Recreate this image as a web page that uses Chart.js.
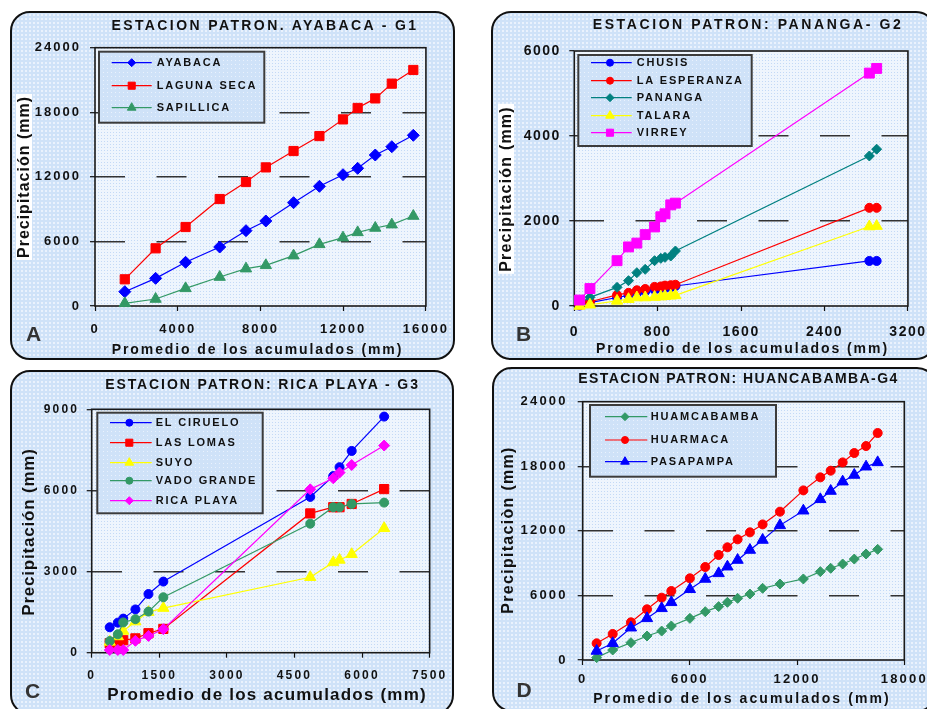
<!DOCTYPE html>
<html><head><meta charset="utf-8">
<script src="https://cdn.jsdelivr.net/npm/chart.js@4/dist/chart.umd.min.js"></script>
<style>
html,body{margin:0;padding:0;background:#fff;width:927px;height:709px;overflow:hidden;position:relative;font-family:"Liberation Sans",Arial,sans-serif;}
.panel{position:absolute;box-sizing:border-box;border:2px solid #111;border-radius:20px;background-color:#cfe2f8;background-image:radial-gradient(circle,#eaf2fd 0.9px,transparent 1.2px);background-size:4px 4px;}
canvas{position:absolute;}
.t{position:absolute;white-space:nowrap;font-weight:bold;color:#111;transform:translate(-50%,-50%);line-height:1;}
.yt{transform:translate(-50%,-50%) rotate(-90deg);}
.wb{background:#fff;padding:0 2px;}
.lt{color:#333;font-size:21px;}
</style></head><body>
<div class="panel" style="left:10px;top:11px;width:445px;height:349px"></div>
<div class="panel" style="left:491px;top:11px;width:445px;height:349px"></div>
<div class="panel" style="left:10px;top:370px;width:444px;height:345px"></div>
<div class="panel" style="left:492px;top:367px;width:445px;height:345px"></div>
<canvas id="cA" width="445" height="349" style="left:10px;top:11px"></canvas>
<canvas id="cB" width="445" height="349" style="left:491px;top:11px"></canvas>
<canvas id="cC" width="444" height="345" style="left:10px;top:370px"></canvas>
<canvas id="cD" width="445" height="345" style="left:492px;top:367px"></canvas>

<div class="t" style="left:265px;top:25px;font-size:14px;letter-spacing:2.4px">ESTACION PATRON. AYABACA - G1</div>
<div class="t" style="left:257.5px;top:349px;font-size:14px;letter-spacing:1.9px">Promedio de los acumulados (mm)</div>
<div class="t yt wb" style="left:24px;top:177px;font-size:16px;letter-spacing:1px">Precipitación (mm)</div>
<div class="t lt" style="left:33.5px;top:332.5px">A</div>

<div class="t" style="left:748px;top:24px;font-size:14px;letter-spacing:2.6px">ESTACION PATRON: PANANGA- G2</div>
<div class="t" style="left:742.5px;top:348px;font-size:14px;letter-spacing:1.95px">Promedio de los acumulados (mm)</div>
<div class="t yt wb" style="left:505.7px;top:189px;font-size:16px;letter-spacing:1.2px">Precipitación (mm)</div>
<div class="t lt" style="left:523.5px;top:332.5px">B</div>

<div class="t" style="left:262.5px;top:384px;font-size:14px;letter-spacing:1.9px">ESTACION PATRON: RICA PLAYA - G3</div>
<div class="t" style="left:267px;top:694px;font-size:17px;letter-spacing:1.2px">Promedio de los acumulados (mm)</div>
<div class="t yt" style="left:28px;top:532px;font-size:17px;letter-spacing:0.8px">Precipitación (mm)</div>
<div class="t lt" style="left:32.5px;top:689.5px">C</div>

<div class="t" style="left:738.5px;top:378px;font-size:14px;letter-spacing:1.4px">ESTACION PATRON: HUANCABAMBA-G4</div>
<div class="t" style="left:742px;top:698px;font-size:14px;letter-spacing:2.1px">Promedio de los acumulados (mm)</div>
<div class="t yt" style="left:507.7px;top:530px;font-size:16px;letter-spacing:1.3px">Precipitaciòn (mm)</div>
<div class="t lt" style="left:524px;top:689px">D</div>

<script>
// ---- Panel A data ----
const A_X = [1440, 2930, 4380, 6030, 7300, 8260, 9600, 10850, 11990, 12700, 13550, 14350, 15390];
const AYABACA = [1330, 2570, 4060, 5480, 7000, 7900, 9600, 11120, 12200, 12790, 14030, 14800, 15860];
const LAGUNA_SECA = [2480, 5360, 7340, 9940, 11520, 12880, 14400, 15790, 17340, 18400, 19290, 20660, 21930];
const SAPILLICA = [250, 650, 1640, 2690, 3470, 3780, 4680, 5730, 6350, 6840, 7250, 7560, 8360];
const A_XTICKS = [0, 4000, 8000, 12000, 16000];
const A_YTICKS = [0, 6000, 12000, 18000, 24000];

// ---- Panel B data ----
const B_X = [50, 150, 410, 520, 600, 680, 770, 830, 870, 925, 970, 2830, 2900];
const CHUSIS = [10, 80, 200, 250, 300, 340, 380, 400, 420, 440, 470, 1060, 1060];
const LA_ESPERANZA = [20, 100, 260, 310, 370, 400, 450, 460, 480, 490, 500, 2310, 2310];
const PANANGA = [60, 204, 439, 596, 784, 863, 1066, 1121, 1145, 1176, 1294, 3530, 3690];
const TALARA = [0, 30, 120, 160, 200, 200, 210, 220, 230, 240, 250, 1870, 1880];
const VIRREY = [140, 410, 1066, 1390, 1480, 1680, 1860, 2100, 2170, 2380, 2420, 5480, 5590];
const B_XTICKS = [0, 800, 1600, 2400, 3200];
const B_YTICKS = [0, 2000, 4000, 6000];

// ---- Panel C data ----
const C_X = [400, 580, 700, 970, 1260, 1590, 4850, 5360, 5500, 5770, 6490];
const EL_CIRUELO = [940, 1110, 1260, 1600, 2170, 2630, 5760, 6530, 6860, 7460, 8730];
const LAS_LOMAS = [350, 420, 460, 530, 720, 880, 5150, 5380, 5380, 5500, 6050];
const SUYO = [400, 600, 800, 1150, 1500, 1650, 2790, 3340, 3430, 3640, 4600];
const VADO_GRANDE = [430, 680, 1120, 1240, 1520, 2050, 4770, 5380, 5380, 5500, 5550];
const RICA_PLAYA = [100, 100, 100, 440, 620, 870, 6040, 6450, 6660, 6940, 7660];
const C_XTICKS = [0, 1500, 3000, 4500, 6000, 7500];
const C_YTICKS = [0, 3000, 6000, 9000];

// ---- Panel D data ----
const D_X = [780, 1680, 2700, 3600, 4420, 4960, 6000, 6860, 7610, 8100, 8670, 9360, 10070, 11040, 12350, 13300, 13880, 14550, 15200, 15860, 16510];
const HUAMCABAMBA = [220, 930, 1610, 2230, 2690, 3160, 3870, 4490, 4960, 5360, 5730, 6130, 6660, 7060, 7530, 8210, 8520, 8920, 9380, 9850, 10280];
const HUARMACA = [1550, 2420, 3500, 4710, 5790, 6410, 7590, 8640, 9760, 10470, 11210, 11860, 12600, 13780, 15760, 16970, 17590, 18360, 19230, 19880, 21090];
const PASAPAMPA = [840, 1550, 3000, 3870, 4800, 5360, 6570, 7530, 8050, 8670, 9290, 10220, 11150, 12510, 13870, 14930, 15700, 16570, 17190, 17960, 18360];
const D_XTICKS = [0, 6000, 12000, 18000];
const D_YTICKS = [0, 6000, 12000, 18000, 24000];

const FONT = '"Liberation Sans", Arial, sans-serif';

function pattern(ctx, base, dot, size, dx, dy) {
  const c = document.createElement('canvas');
  c.width = size; c.height = size;
  const g = c.getContext('2d');
  g.fillStyle = base; g.fillRect(0, 0, size, size);
  g.fillStyle = dot; g.fillRect(dx, dy, 1, 1);
  return ctx.createPattern(c, 'repeat');
}

const deco = {
  id: 'deco',
  beforeDraw(chart, args, o) {
    const ctx = chart.ctx, a = chart.chartArea;
    ctx.save();
    ctx.fillStyle = pattern(ctx, '#eef5fd', '#c3d9f6', 3, 1, 1);
    ctx.fillRect(a.left, a.top, a.right - a.left, a.bottom - a.top);
    ctx.restore();
    ctx.letterSpacing = (o.tickSpacing || 0) + 'px';
  },
  beforeDatasetsDraw(chart) {
    const ctx = chart.ctx, a = chart.chartArea;
    ctx.save();
    ctx.letterSpacing = '0px';
    ctx.strokeStyle = '#1a1a1a'; ctx.lineWidth = 1.6;
    ctx.strokeRect(a.left, a.top, a.right - a.left, a.bottom - a.top);
    ctx.restore();
  },
  afterDraw(chart, args, o) {
    const L = o.legend; if (!L) return;
    const ctx = chart.ctx;
    ctx.save();
    ctx.fillStyle = pattern(ctx, '#cfe2f8', '#eaf2fd', 4, 1, 1);
    ctx.fillRect(L.x, L.y, L.w, L.h);
    ctx.strokeStyle = '#3c3c3c'; ctx.lineWidth = 2;
    ctx.strokeRect(L.x, L.y, L.w, L.h);
    chart.data.datasets.forEach((d, i) => {
      const y = L.rows[i];
      ctx.letterSpacing = '0px';
      ctx.strokeStyle = d.borderColor; ctx.lineWidth = 1.2;
      ctx.beginPath(); ctx.moveTo(L.x1, y); ctx.lineTo(L.x2, y); ctx.stroke();
      ctx.fillStyle = d.borderColor; ctx.strokeStyle = d.borderColor; ctx.lineWidth = 1;
      Chart.helpers.drawPoint(ctx, {pointStyle: d.pointStyle, radius: d.legendR, borderWidth: 1, rotation: 0}, L.mx, y);
      ctx.fillStyle = '#111';
      ctx.font = 'bold 11px ' + FONT;
      ctx.letterSpacing = '1.8px';
      ctx.textBaseline = 'middle'; ctx.textAlign = 'left';
      ctx.fillText(d.label, L.tx, y);
    });
    ctx.restore();
  }
};
Chart.register(deco);

function ds(label, xs, ys, color, style, r, lr, i, n) {
  return {
    label, data: xs.map((x, k) => ({x, y: ys[k]})),
    borderColor: color, backgroundColor: color,
    pointBackgroundColor: color, pointBorderColor: color,
    pointStyle: style, pointRadius: r, pointHoverRadius: r, pointBorderWidth: 1,
    borderWidth: 1.2, showLine: true, tension: 0, clip: false,
    order: n - i, legendR: lr
  };
}

// area: chart area rectangle inside the canvas {l, t, r, b}; canvas size {w, h}
function make(id, cfg) {
  const n = cfg.series.length;
  const datasets = cfg.series.map((s, i) => ds(s[0], cfg.xs, s[1], s[2], s[3], s[4], s[5], i, n));
  const xmax = cfg.xt[cfg.xt.length - 1], ymax = cfg.yt[cfg.yt.length - 1];
  const tickFont = {family: FONT, size: cfg.tf, weight: 'bold'};
  const A = cfg.area, XH = 42, PL = 2;
  new Chart(document.getElementById(id), {
    type: 'scatter',
    data: {datasets},
    options: {
      responsive: false, animation: false, events: [],
      layout: {padding: {left: PL, top: A.t, right: cfg.w - A.r, bottom: cfg.h - A.b - XH}},
      plugins: {legend: {display: false}, tooltip: {enabled: false}, title: {display: false},
        deco: {tickSpacing: cfg.ts, legend: cfg.legend}},
      scales: {
        x: {type: 'linear', min: 0, max: xmax,
          afterBuildTicks: s => { s.ticks = cfg.xt.map(v => ({value: v})); },
          afterFit: s => { s.height = XH; },
          ticks: {font: tickFont, color: '#111', padding: cfg.xpad, maxRotation: 0, autoSkip: false, callback: v => String(v)},
          grid: {drawOnChartArea: false, drawTicks: true, tickLength: 5, tickColor: '#111', color: '#111', tickWidth: 1.2},
          border: {display: false}},
        y: {type: 'linear', min: 0, max: ymax,
          afterBuildTicks: s => { s.ticks = cfg.yt.map(v => ({value: v})); },
          afterFit: s => { s.width = A.l - PL; },
          ticks: {font: tickFont, color: '#111', padding: cfg.ypad, autoSkip: false, callback: v => String(v)},
          grid: {color: c => (c.tick && (c.tick.value === 0 || c.tick.value === ymax)) ? 'rgba(0,0,0,0)' : '#333',
                 lineWidth: 1.4, tickLength: 5, tickColor: '#111', tickWidth: 1.2},
          border: {display: false, dash: [30, 31.5]}}
      }
    }
  });
}

make('cA', {
  xs: A_X, xt: A_XTICKS, yt: A_YTICKS, tf: 13, ts: 2, xpad: 11, ypad: 9,
  w: 445, h: 349, area: {l: 85, t: 36.7, r: 417.7, b: 295},
  series: [
    ['AYABACA', AYABACA, '#0000ff', 'rectRot', 6, 4],
    ['LAGUNA SECA', LAGUNA_SECA, '#ff0000', 'rect', 6.5, 5],
    ['SAPILLICA', SAPILLICA, '#339966', 'triangle', 6.5, 5]
  ],
  legend: {x: 89, y: 40.7, w: 165.3, h: 71, rows: [51.7, 74.7, 96.7], x1: 101.7, x2: 141.7, mx: 121.7, tx: 146.7}
});

make('cB', {
  xs: B_X, xt: B_XTICKS, yt: B_YTICKS, tf: 14, ts: 1.5, xpad: 12.5, ypad: 8.5,
  w: 445, h: 349, area: {l: 83.3, t: 40, r: 424, b: 295},
  series: [
    ['CHUSIS', CHUSIS, '#0000ff', 'circle', 4.5, 3.5],
    ['LA ESPERANZA', LA_ESPERANZA, '#ff0000', 'circle', 4.5, 3.5],
    ['PANANGA', PANANGA, '#008080', 'rectRot', 5, 4],
    ['TALARA', TALARA, '#ffff00', 'triangle', 6.5, 5],
    ['VIRREY', VIRREY, '#ff00ff', 'rect', 7, 5]
  ],
  legend: {x: 87.3, y: 44, w: 173.4, h: 91, rows: [51.7, 69.7, 86.7, 104.7, 121.7], x1: 100, x2: 140.7, mx: 119, tx: 145.7}
});

make('cC', {
  xs: C_X, xt: C_XTICKS, yt: C_YTICKS, tf: 12, ts: 2.2, xpad: 11, ypad: 7.5,
  w: 444, h: 345, area: {l: 81.7, t: 39.3, r: 423.3, b: 282.7},
  series: [
    ['EL CIRUELO', EL_CIRUELO, '#0000ff', 'circle', 4.5, 3.5],
    ['LAS LOMAS', LAS_LOMAS, '#ff0000', 'rect', 6.5, 5],
    ['SUYO', SUYO, '#ffff00', 'triangle', 6.5, 5],
    ['VADO GRANDE', VADO_GRANDE, '#339966', 'circle', 4.5, 3.5],
    ['RICA PLAYA', RICA_PLAYA, '#ff00ff', 'rectRot', 5.5, 4]
  ],
  legend: {x: 87.3, y: 42.7, w: 165.4, h: 100.6, rows: [52.7, 72.7, 92.7, 110.7, 130.7], x1: 100, x2: 141.7, mx: 119.3, tx: 145.7}
});

make('cD', {
  xs: D_X, xt: D_XTICKS, yt: D_YTICKS, tf: 13, ts: 2.2, xpad: 6.5, ypad: 10,
  w: 445, h: 345, area: {l: 90.7, t: 34.7, r: 412.3, b: 293},
  series: [
    ['HUAMCABAMBA', HUAMCABAMBA, '#339966', 'rectRot', 5, 4],
    ['HUARMACA', HUARMACA, '#ff0000', 'circle', 4.5, 3.5],
    ['PASAPAMPA', PASAPAMPA, '#0000ff', 'triangle', 6.5, 5]
  ],
  legend: {x: 98, y: 38, w: 186, h: 71.7, rows: [49.7, 73, 94.7], x1: 113, x2: 155.3, mx: 133, tx: 158.7}
});
</script>
</body></html>
